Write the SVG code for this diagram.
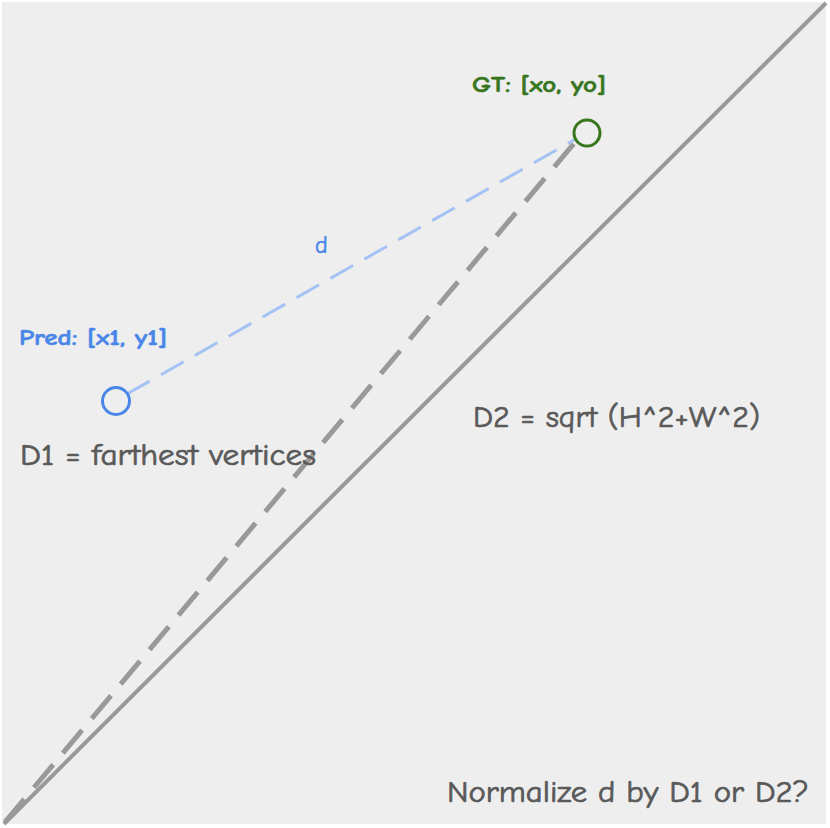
<svg xmlns="http://www.w3.org/2000/svg" width="830" height="828" viewBox="0 0 830 828">
<style>
.t{font-family:"Comic Sans MS","Comic Neue","Liberation Sans",sans-serif}
.lbl{fill:#595959;stroke:#595959;stroke-width:0.7px;font-size:30px}
.bold{font-weight:bold;font-size:22px}
</style>
<rect x="0" y="0" width="830" height="828" fill="#ffffff"/>
<rect id="bg" x="2" y="2" width="824" height="822" fill="#eeeeee"/>
<g id="connectors" fill="none">
  <line x1="4" y1="824" x2="826" y2="3" stroke="#999999" stroke-width="4"/>
  <line x1="5" y1="822" x2="576" y2="141" stroke="#999999" stroke-width="5" stroke-dasharray="30,15"/>
  <line x1="127" y1="394" x2="574" y2="140" stroke="#a4c2f4" stroke-width="3" stroke-dasharray="26,13"/>
</g>
<g id="gt">
  <circle cx="587" cy="133" r="13" fill="none" stroke="#38761d" stroke-width="3"/>
  <text class="t bold" x="472" y="92" fill="#38761d" stroke="#38761d" stroke-width="0.5" textLength="134" lengthAdjust="spacingAndGlyphs">GT: [xo, yo]</text>
</g>
<g id="pred">
  <circle cx="116" cy="401" r="13.5" fill="none" stroke="#4a86e8" stroke-width="3"/>
  <text class="t bold" x="19" y="345" fill="#4a86e8" stroke="#4a86e8" stroke-width="0.5" textLength="148" lengthAdjust="spacingAndGlyphs">Pred: [x1, y1]</text>
</g>
<g id="d-label">
  <text class="t" x="315" y="253" fill="#4a86e8" stroke="#4a86e8" stroke-width="0.6" font-size="24">d</text>
</g>
<g id="d1">
  <text class="t lbl" x="20" y="465" textLength="296" lengthAdjust="spacingAndGlyphs">D1 = farthest vertices</text>
</g>
<g id="d2">
  <text class="t lbl" x="473" y="427" textLength="287" lengthAdjust="spacingAndGlyphs">D2 = sqrt (H^2+W^2)</text>
</g>
<g id="question">
  <text class="t lbl" x="447" y="802" font-size="32" textLength="362" lengthAdjust="spacingAndGlyphs">Normalize d by D1 or D2?</text>
</g>
</svg>
